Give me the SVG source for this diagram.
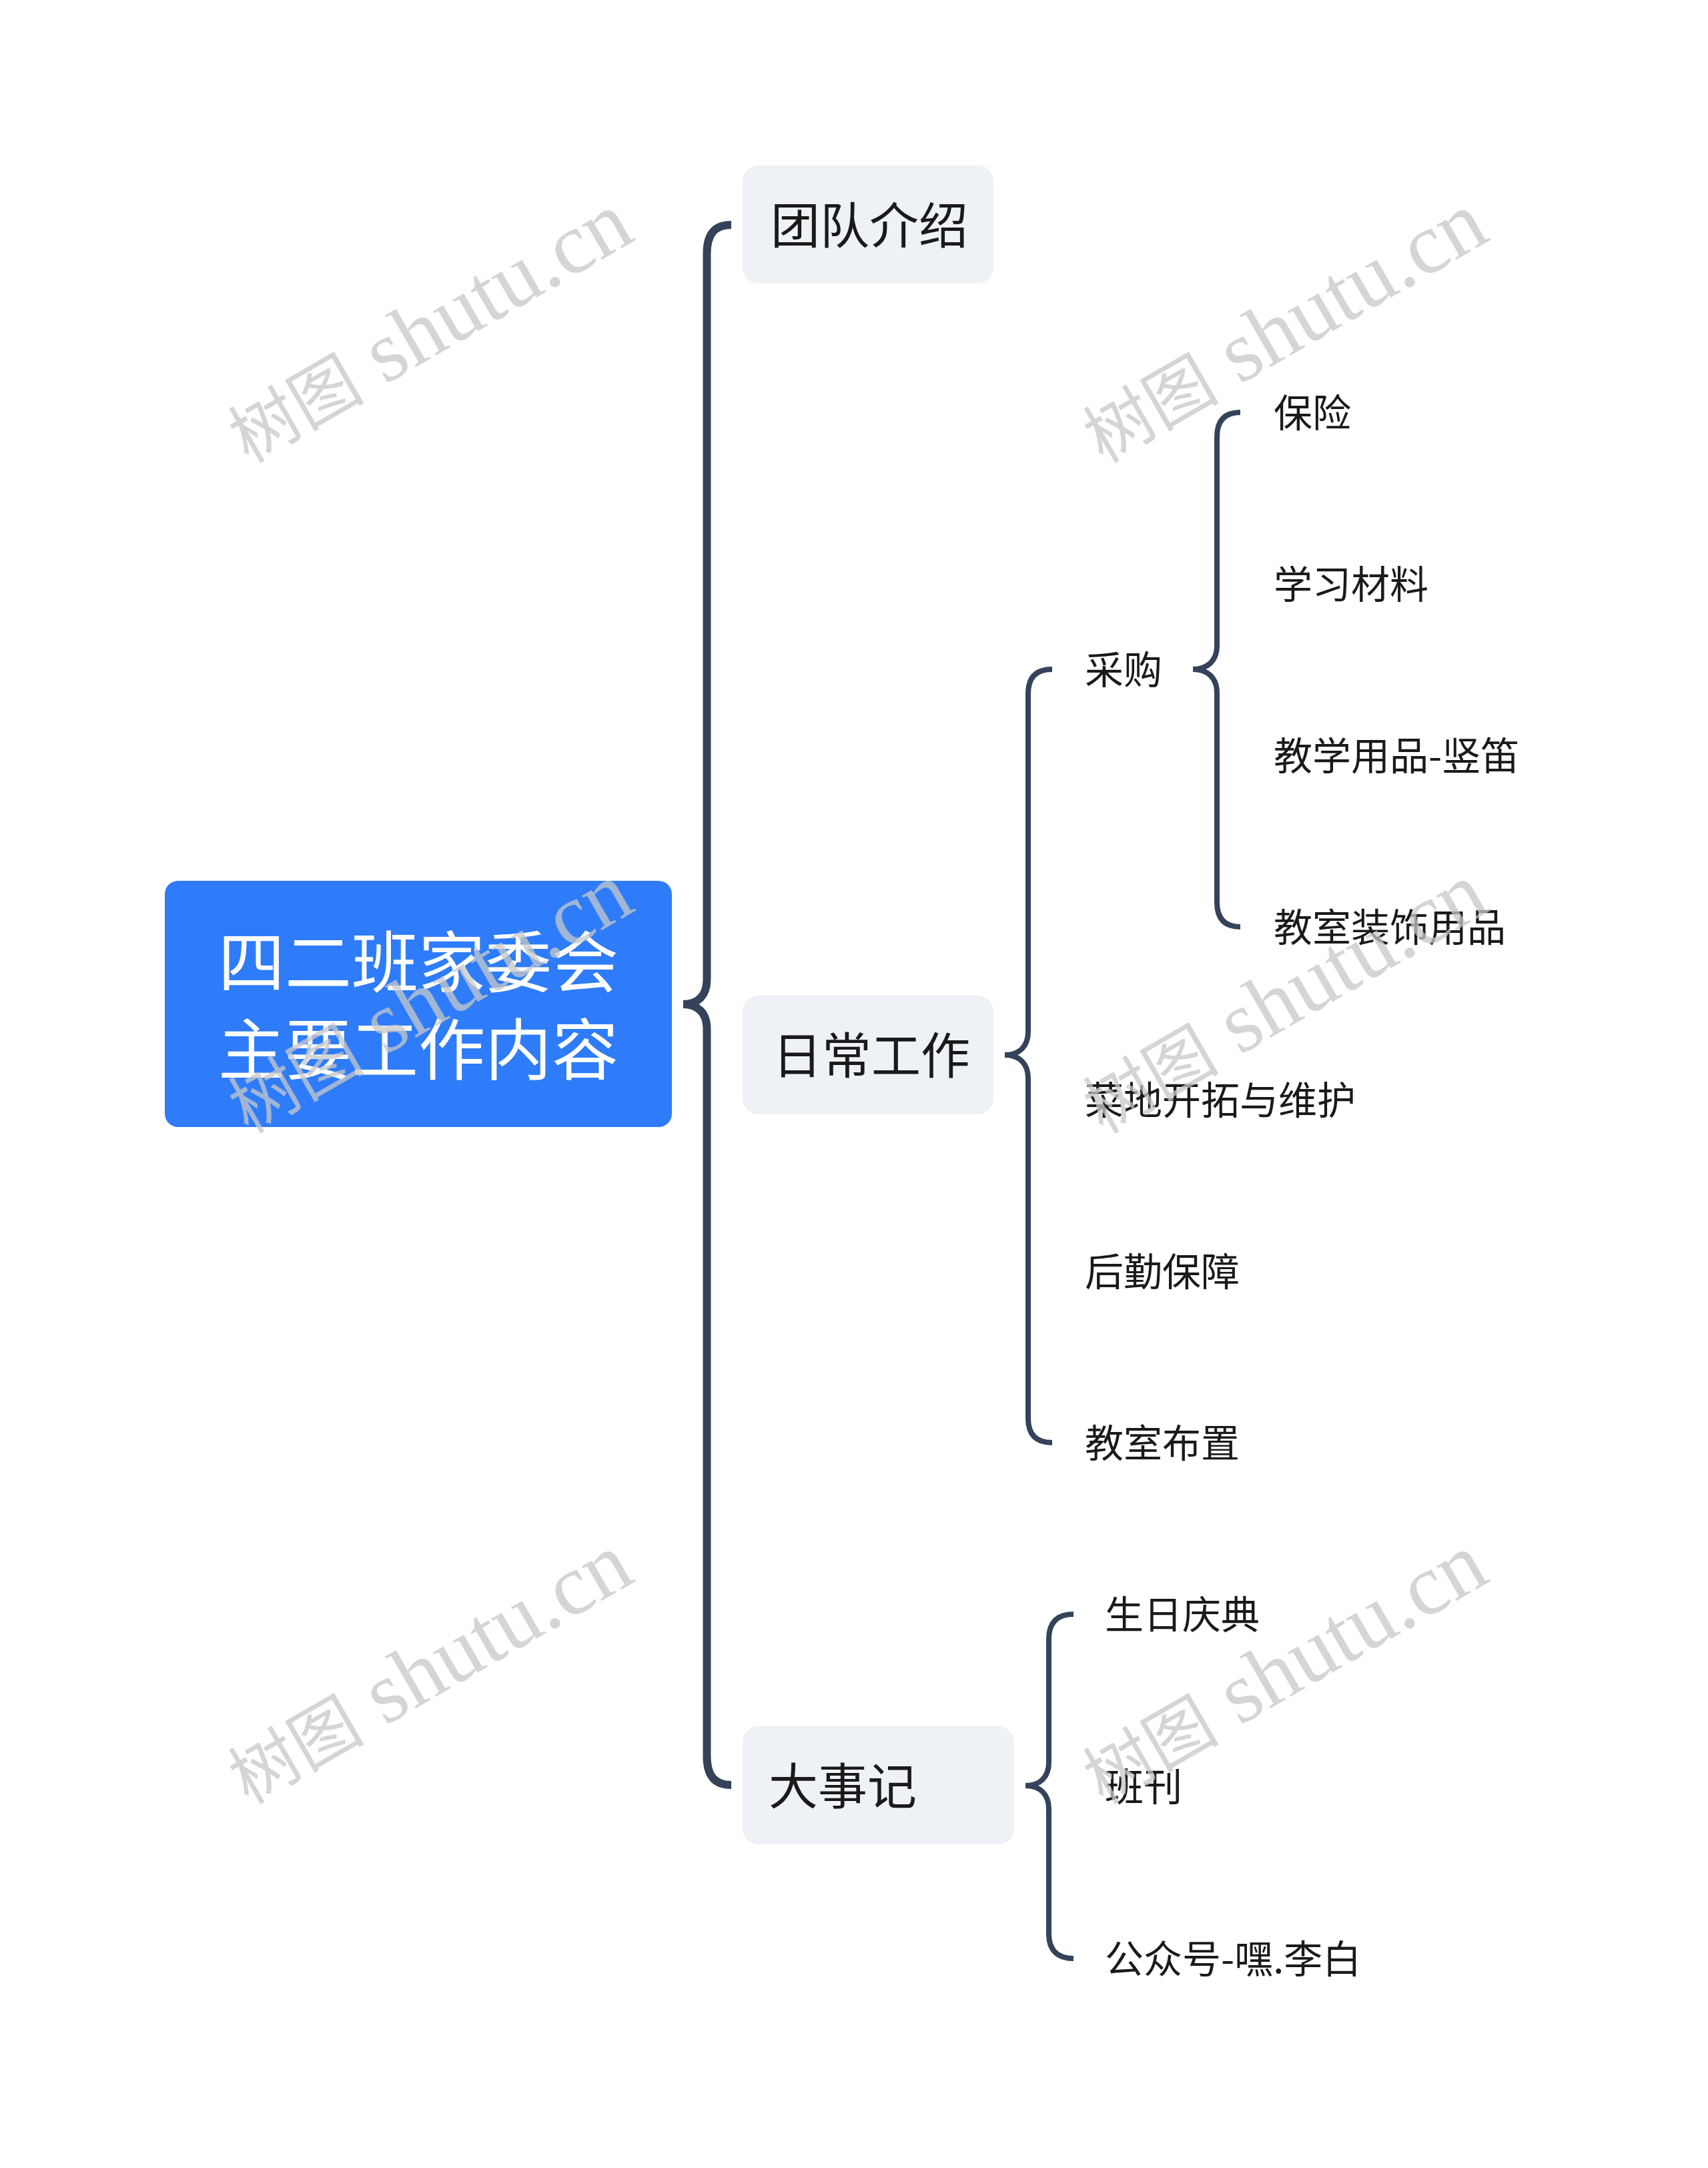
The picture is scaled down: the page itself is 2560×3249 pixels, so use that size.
<svg xmlns="http://www.w3.org/2000/svg" width="2560" height="3249" viewBox="0 0 2560 3249">
<style>
.bg{fill:#ffffff}
.root{fill:#2e7cf9}
.box{fill:#eef1f5}
.t{font-family:"Noto Sans CJK SC","Noto Sans",sans-serif;fill:#1a1a1a}
.rt{font-family:"Noto Sans CJK SC","Noto Sans",sans-serif;fill:#ffffff;font-size:100px}
.l1{font-size:74px}
.l2{font-size:58px}
.c{fill:none;stroke:#344359;stroke-linecap:butt;stroke-linejoin:round}
.cm{stroke-width:12}
.cs{stroke-width:8}
.wm{font-family:"Liberation Serif","Noto Sans CJK SC",serif;font-size:130px;fill:#c8c8c8;opacity:0.75}
.wc{font-size:102px}
</style>
<rect class="bg" x="0" y="0" width="2560" height="3249"/>
<g id="connectors">
<path class="c cm" d="M1096,337 C1072,337 1059.5,350 1059.5,380 L1059.5,1468 C1059.5,1492 1046,1505 1024,1505 M1024,1505 C1046,1505 1059.5,1518 1059.5,1542 L1059.5,2632 C1059.5,2662 1072,2675 1096,2675"/>
<path class="c cs" d="M1577,1003 C1553,1003 1541,1015 1541,1040 L1541,1546 C1541,1568 1528,1581 1506,1581 M1506,1581 C1528,1581 1541,1594 1541,1616 L1541,2125 C1541,2150 1553,2162 1577,2162"/>
<path class="c cs" d="M1859,618 C1836,618 1824,630 1824,655 L1824,968 C1824,990 1810,1003 1788,1003 M1788,1003 C1810,1003 1824,1016 1824,1038 L1824,1352 C1824,1377 1836,1389 1859,1389"/>
<path class="c cs" d="M1609,2419 C1585,2419 1572,2431 1572,2456 L1572,2641 C1572,2663 1559,2676 1537,2676 M1537,2676 C1559,2676 1572,2689 1572,2711 L1572,2898 C1572,2923 1585,2935 1609,2935"/>
</g>
<g id="root">
<rect class="root" x="247" y="1320" width="760" height="369" rx="20"/>
<text class="rt" x="627" y="1479" text-anchor="middle">四二班家委会</text>
<text class="rt" x="627" y="1610" text-anchor="middle">主要工作内容</text>
</g>
<g id="n-tuandui">
<rect class="box" x="1113" y="248" width="376" height="177" rx="24"/>
<text class="t l1" x="1155" y="365">团队介绍</text>
</g>
<g id="n-richang">
<rect class="box" x="1113" y="1492" width="376" height="178" rx="24"/>
<text class="t l1" x="1158" y="1609">日常工作</text>
</g>
<g id="n-dashiji">
<rect class="box" x="1113" y="2587" width="407" height="177" rx="24"/>
<text class="t l1" x="1152" y="2704">大事记</text>
</g>
<g id="n-caigou"><text class="t l2" x="1626" y="1025">采购</text></g>
<g id="n-baoxian"><text class="t l2" x="1909" y="640">保险</text></g>
<g id="n-xuexi"><text class="t l2" x="1909" y="897">学习材料</text></g>
<g id="n-jiaoxue"><text class="t l2" x="1909" y="1154">教学用品-竖笛</text></g>
<g id="n-zhuangshi"><text class="t l2" x="1909" y="1411">教室装饰用品</text></g>
<g id="n-caidi"><text class="t l2" x="1626" y="1670">菜地开拓与维护</text></g>
<g id="n-houqin"><text class="t l2" x="1626" y="1927">后勤保障</text></g>
<g id="n-buzhi"><text class="t l2" x="1626" y="2184">教室布置</text></g>
<g id="n-shengri"><text class="t l2" x="1656" y="2441">生日庆典</text></g>
<g id="n-bankan"><text class="t l2" x="1656" y="2699">班刊</text></g>
<g id="n-gongzhong"><text class="t l2" x="1656" y="2957">公众号-嘿.李白</text></g>
<g id="watermarks">
<text class="wm" transform="translate(372,695) rotate(-30)"><tspan class="wc">树图</tspan> shutu.cn</text>
<text class="wm" transform="translate(1653,695) rotate(-30)"><tspan class="wc">树图</tspan> shutu.cn</text>
<text class="wm" transform="translate(372,1700) rotate(-30)"><tspan class="wc">树图</tspan> shutu.cn</text>
<text class="wm" transform="translate(1653,1700) rotate(-30)"><tspan class="wc">树图</tspan> shutu.cn</text>
<text class="wm" transform="translate(372,2705) rotate(-30)"><tspan class="wc">树图</tspan> shutu.cn</text>
<text class="wm" transform="translate(1653,2705) rotate(-30)"><tspan class="wc">树图</tspan> shutu.cn</text>
</g>
</svg>
